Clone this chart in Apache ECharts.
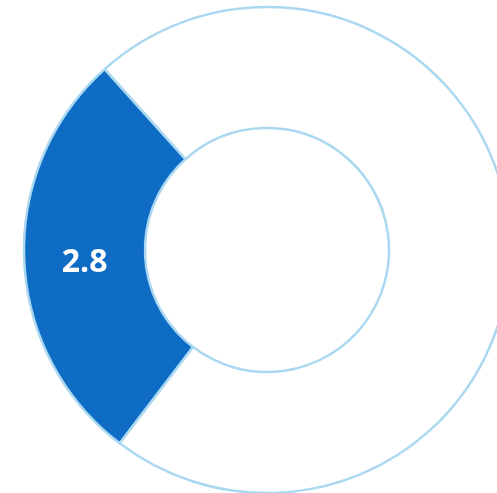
<!DOCTYPE html>
<html>
<head>
<meta charset="utf-8">
<script src="https://cdn.jsdelivr.net/npm/echarts@6/dist/echarts.min.js"></script>
<style>
html,body{margin:0;padding:0;background:#fff;}
#c{width:497px;height:493px;}
</style>
</head>
<body>
<div id="c"></div>
<script>
const categories = ['A', 'B'];
const values = [2.8, 7.2];
const colors = ['#0f6cc5', '#ffffff'];
const showLabel = [true, false];

const chart = echarts.init(document.getElementById('c'), null, {renderer: 'canvas'});
chart.setOption({
  animation: false,
  series: [{
    type: 'pie',
    center: [267, 250],
    radius: [122, 243],
    startAngle: 232.7,
    clockwise: true,
    avoidLabelOverlap: false,
    silent: true,
    itemStyle: { borderColor: '#aad8f0', borderWidth: 2.5 },
    label: {
      position: 'inside',
      color: '#ffffff',
      fontFamily: 'Open Sans',
      fontWeight: 'bold',
      fontSize: 32,
      offset: [3, 5],
      formatter: p => String(p.value)
    },
    labelLine: { show: false },
    data: categories.map((c, i) => ({
      name: c,
      value: values[i],
      itemStyle: { color: colors[i] },
      label: { show: showLabel[i] }
    }))
  }]
});
</script>
</body>
</html>
